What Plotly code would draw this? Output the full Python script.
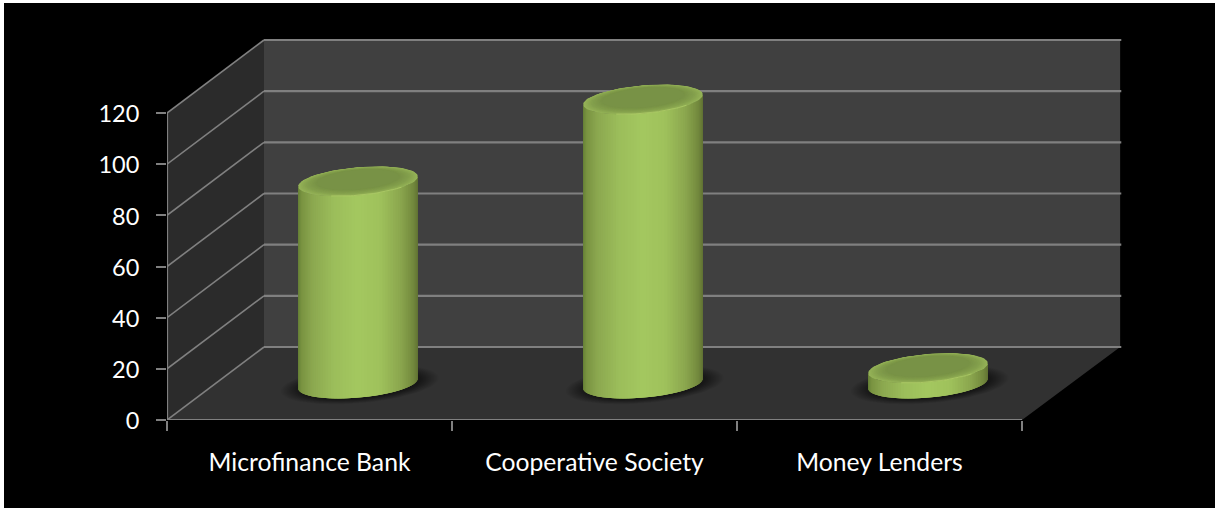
import numpy as np
import plotly.graph_objects as go

categories = ["Microfinance Bank", "Cooperative Society", "Money Lenders"]
values = [79, 111, 6]
value_ticks = [0, 20, 40, 60, 80, 100, 120]

# Oblique projection: one unit of depth moves this far along each axis.
DEPTH_X = 97 / 285
DEPTH_Y = 73 / 2.5583
GRID = "#808080"
RADIUS_X, RADIUS_D = 0.198, 0.205

fig = go.Figure()


def poly(xs, ys, fill, line=None, width=0.0):
    fig.add_trace(go.Scatter(
        x=list(xs), y=list(ys), mode="lines", fill="toself", fillcolor=fill,
        line=dict(color=line or fill, width=width), hoverinfo="skip",
        showlegend=False, cliponaxis=False))


def stroke(xs, ys, color=GRID, width=1.8):
    fig.add_trace(go.Scatter(
        x=list(xs), y=list(ys), mode="lines", line=dict(color=color, width=width),
        hoverinfo="skip", showlegend=False, cliponaxis=False))


def ellipse(cx, cy, t, scale=1.0):
    ex = RADIUS_X * np.cos(t) + DEPTH_X * RADIUS_D * np.sin(t)
    ey = DEPTH_Y * RADIUS_D * np.sin(t)
    return cx + scale * ex, cy + scale * ey


def rgb(c):
    return f"rgb({int(c[0])},{int(c[1])},{int(c[2])})"


# Walls and floor of the 3D box
top = value_ticks[-1]
right = 3 + DEPTH_X + 0.004
poly([0, DEPTH_X, DEPTH_X, 0], [0, DEPTH_Y, top + DEPTH_Y, top], "#2b2b2b")
poly([DEPTH_X, right, right, DEPTH_X],
     [DEPTH_Y, DEPTH_Y, top + DEPTH_Y, top + DEPTH_Y], "#404040")
poly([0, 3, right, DEPTH_X], [0, 0, DEPTH_Y, DEPTH_Y], "#313131")

for v in value_ticks:
    stroke([0, DEPTH_X], [v, v + DEPTH_Y], width=1.6)
    stroke([DEPTH_X, right + 0.004], [v + DEPTH_Y, v + DEPTH_Y], width=2.1)
stroke([0, 0], [0, top], width=2.2)
stroke([0, 3], [0, 0], width=2.2)

t_full = np.linspace(0, 2 * np.pi, 73)
t_start = np.arctan2(DEPTH_X * RADIUS_D, RADIUS_X) + np.pi
t_front = np.linspace(t_start, t_start + np.pi, 61)
frac_stops = [0, 0.03, 0.12, 0.3, 0.5, 0.68, 0.85, 0.96, 1]
r_stops = [104, 122, 140, 156, 164, 160, 140, 116, 98]
g_stops = [130, 148, 168, 190, 200, 194, 168, 138, 116]
b_stops = [56, 66, 80, 91, 96, 92, 79, 62, 52]

for i, v in enumerate(values):
    cx = i + 0.5 + DEPTH_X / 2
    cy = DEPTH_Y / 2

    # Soft contact shadow on the floor
    for s in np.linspace(1.32, 1.0, 14):
        sx, sy = ellipse(cx + 0.006, cy - 0.4, t_full, s)
        poly(sx, sy, "rgba(0,0,0,0.04)", line="rgba(0,0,0,0)")

    # Cylinder wall: each strip runs under the next, so no seam shows between them
    xb, yb = ellipse(cx, cy, t_front)
    xmin, xmax = xb.min(), xb.max()
    for j in range(len(t_front) - 1):
        f = ((xb[j] + xb[j + 1]) / 2 - xmin) / (xmax - xmin)
        colour = rgb((np.interp(f, frac_stops, r_stops),
                      np.interp(f, frac_stops, g_stops),
                      np.interp(f, frac_stops, b_stops)))
        k = min(j + 3, len(t_front) - 1)
        arc_x, arc_y = xb[j:k + 1], yb[j:k + 1]
        poly(np.r_[arc_x, arc_x[::-1]], np.r_[arc_y, arc_y[::-1] + v], colour)

    # Bevelled cap, with the inner disc set back so the front rim reads wider
    for s in np.linspace(1.0, 0.68, 28):
        k = (1.0 - s) / 0.32
        colour = rgb((np.interp(k, [0, 0.45, 1], [150, 132, 120]),
                      np.interp(k, [0, 0.45, 1], [180, 160, 146]),
                      np.interp(k, [0, 0.45, 1], [88, 77, 70])))
        ex, ey = ellipse(cx, cy + v + 0.7 * k, t_full, s)
        poly(ex, ey, colour)
    t_hi = np.linspace(t_start + 1.1, t_start + 2.4, 24)
    hx, hy = ellipse(cx, cy + v, t_hi, 0.985)
    stroke(hx, hy, color="rgba(180,210,105,0.7)", width=1.0)

x_top = (1215 - 167) / 285
y_top = 420 / 2.5583
fig.update_layout(
    width=1215, height=508, autosize=False,
    margin=dict(l=167, r=0, t=0, b=88, autoexpand=False),
    paper_bgcolor="white", plot_bgcolor="rgba(0,0,0,0)",
    font=dict(family="Lato, Open Sans, sans-serif", size=24, color="white"),
    showlegend=False,
    shapes=[dict(type="rect", xref="paper", yref="paper", layer="below",
                 x0=(4 - 167) / 1048, x1=1, y0=(420 - 508) / 420, y1=417 / 420,
                 fillcolor="black", line=dict(width=0))],
    xaxis=dict(range=[0, x_top], showgrid=False, zeroline=False, showline=False,
               tickmode="array", tickvals=[0.5, 1.5, 2.5], ticktext=categories,
               ticks="", ticklabelstandoff=25, tickfont=dict(size=24.7),
               minor=dict(tickmode="array", tickvals=[0, 1, 2, 3], ticks="outside",
                          ticklen=10, tickwidth=2.2, tickcolor=GRID, showgrid=False)),
    yaxis=dict(range=[0, y_top], showgrid=False, zeroline=False, showline=False,
               tickmode="array", tickvals=value_ticks, ticks="outside",
               ticklen=10, tickwidth=2.2, tickcolor=GRID, ticklabelstandoff=12,
               ticklabelshift=1, tickfont=dict(size=23.5)),
)

fig.write_html("out.html")
